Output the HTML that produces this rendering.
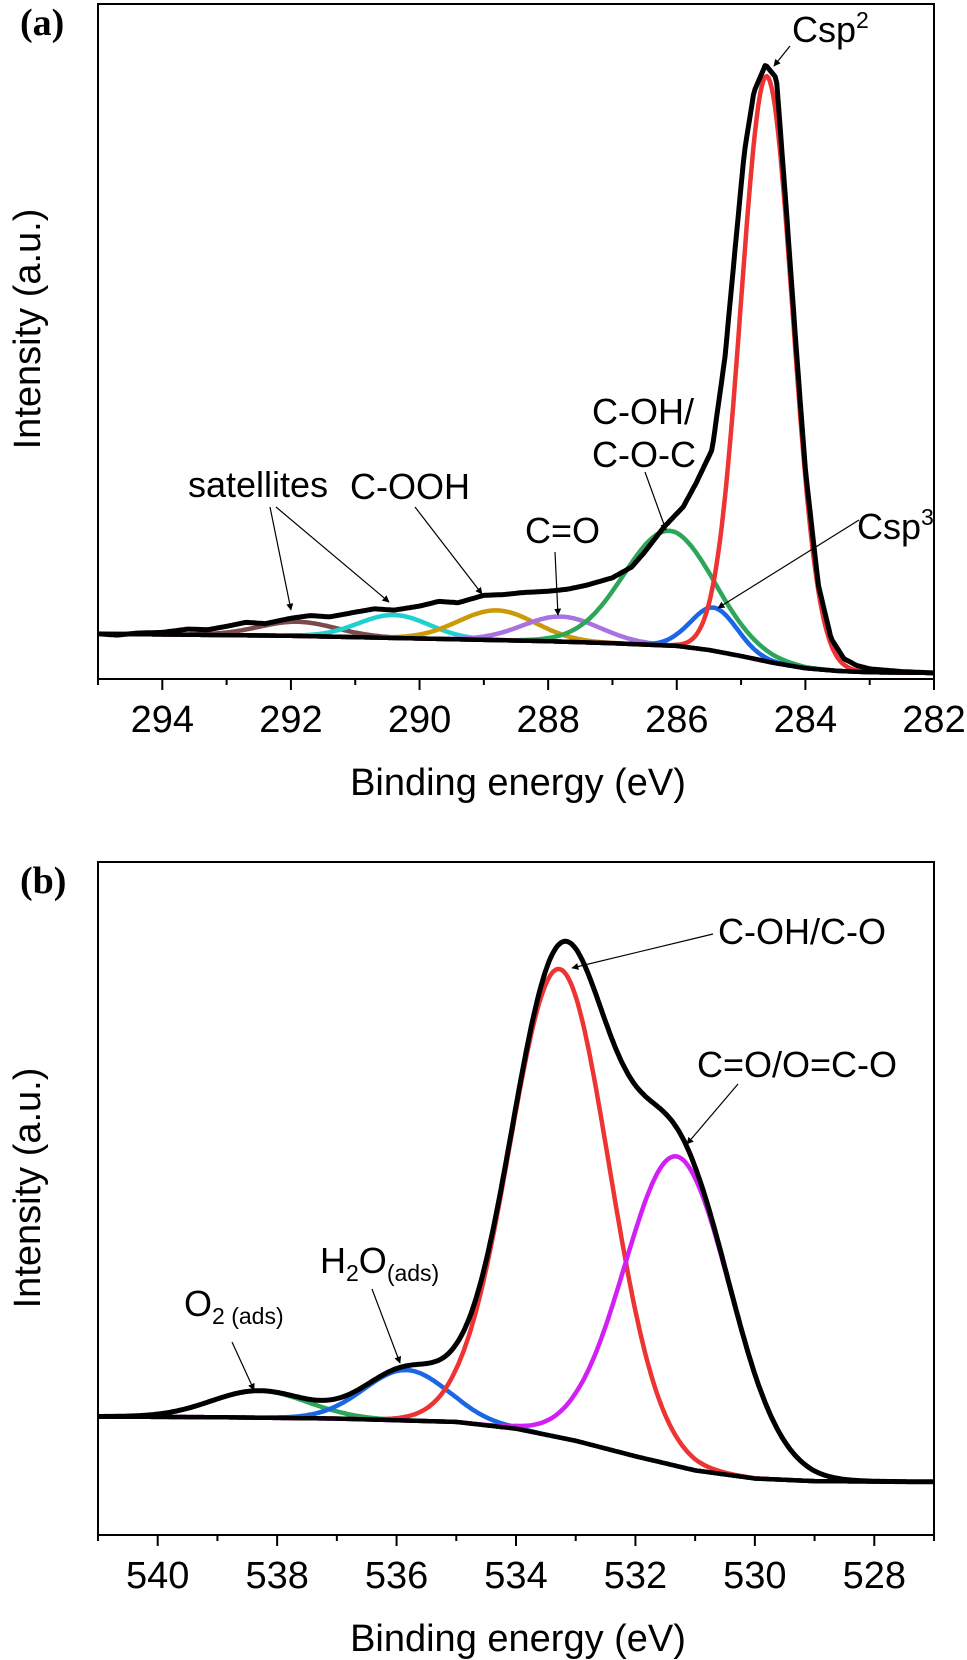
<!DOCTYPE html>
<html><head><meta charset="utf-8"><style>
html,body{margin:0;padding:0;background:#fff;}
svg{display:block;}
text{font-family:"Liberation Sans",Arial,sans-serif;fill:#000;}
</style></head><body>
<svg id="fig" width="967" height="1660" viewBox="0 0 967 1660" xmlns="http://www.w3.org/2000/svg">
<defs>
<marker id="ah" viewBox="0 0 10 10" refX="9" refY="5" markerWidth="7" markerHeight="9" orient="auto" markerUnits="userSpaceOnUse"><path d="M0,0 L10,5 L0,10 z" fill="#000"/></marker>
</defs>
<g id="pa"></g>
<g id="pb"></g>
</svg>
<script>
// ---------- Panel (a) data: C 1s ----------
const aTicks = [294, 292, 290, 288, 286, 284, 282];
const aBgX = [295, 292, 290, 288, 287, 286, 285.5, 285, 284.5, 284, 283.5, 283, 282];
const aBgY = [6.7, 6.4, 6.0, 5.6, 5.3, 4.9, 4.3, 3.4, 2.4, 1.6, 1.2, 1.0, 0.9];
const aPeakNames = ['brown-satellite', 'cyan-satellite', 'gold-cooh', 'purple-c=o', 'green-coh', 'blue-csp3', 'red-csp2'];
const aPeakCenters = [291.9, 290.4, 288.8, 287.8, 286.12, 285.42, 284.6];
const aPeakHeights = [2.1, 3.4, 4.4, 3.7, 17, 6.4, 86.7];
const aPeakSigmas = [0.6, 0.55, 0.6, 0.6, 0.7, 0.36, 0.4];
const aPeakColors = ['#7b4b4b', '#20d0d0', '#cc9a06', '#a873e0', '#2ea65a', '#1a66e6', '#ee3333'];
const aDataX = [295, 294.7, 294.4, 294, 293.6, 293.3, 293, 292.7, 292.4, 292, 291.7, 291.4, 291, 290.7, 290.4, 290, 289.7, 289.4, 289, 288.7, 288.4, 288, 287.7, 287.4, 287, 286.7, 286.5, 286.2, 285.9, 285.7, 285.45, 285.25, 285.1, 284.95, 284.8, 284.62, 284.45, 284.3, 284.15, 284.0, 283.8, 283.6, 283.4, 283.2, 283, 282.5, 282];
const aDataY = [6.7, 6.5, 6.8, 6.9, 7.4, 7.3, 7.8, 8.4, 8.2, 9.0, 9.4, 9.2, 9.9, 10.4, 10.2, 10.8, 11.5, 11.3, 12.4, 12.5, 12.8, 13.0, 13.3, 13.9, 15.0, 16.6, 18.8, 22.5, 25.5, 29, 34, 47.7, 63, 78, 87, 91, 89, 70, 50, 31, 14, 6, 3, 2, 1.5, 1.1, 0.9];

// ---------- Panel (b) data: O 1s ----------
const bTicks = [540, 538, 536, 534, 532, 530, 528];
const bBgX = [541, 539, 537, 535, 534, 533, 532, 531, 530, 529, 527];
const bBgY = [17.6, 17.5, 17.3, 16.8, 15.8, 14.0, 11.7, 9.6, 8.4, 8.0, 7.9];
const bPeakNames = ['green-o2-ads', 'blue-h2o-ads', 'red-coh-co', 'magenta-c=o'];
const bPeakCenters = [538.3, 535.84, 533.27, 531.3];
const bPeakHeights = [4, 7.5, 69.6, 46];
const bPeakSigmas = [0.8, 0.7, 0.83, 0.88];
const bPeakColors = ['#2ea65a', '#1a66e6', '#ee3333', '#d21ff5'];

const NS = 'http://www.w3.org/2000/svg';
function mk(parent, tag, attrs) {
  const e = document.createElementNS(NS, tag);
  for (const k in attrs) e.setAttribute(k, attrs[k]);
  parent.appendChild(e);
  return e;
}
function interp(xs, ys, x) {
  if (x >= xs[0]) return ys[0];
  for (let i = 0; i < xs.length - 1; i++) {
    if (x <= xs[i] && x >= xs[i + 1]) {
      const t = (xs[i] - x) / (xs[i] - xs[i + 1]);
      return ys[i] + t * (ys[i + 1] - ys[i]);
    }
  }
  return ys[ys.length - 1];
}
function gauss(x, c, h, s) { return h * Math.exp(-((x - c) * (x - c)) / (2 * s * s)); }

function panel(g, cfg) {
  const xS = v => cfg.L + (cfg.x0 - v) / (cfg.x0 - cfg.x1) * (cfg.R - cfg.L);
  const yS = v => cfg.B - v / 100 * (cfg.B - cfg.T);
  const fr = mk(g, 'rect', {x: cfg.L, y: cfg.T, width: cfg.R - cfg.L, height: cfg.B - cfg.T, fill: 'none', stroke: '#000', 'stroke-width': 2});
  
  
  for (let v = Math.floor(cfg.x0); v >= Math.ceil(cfg.x1); v--) {
    const major = cfg.ticks.indexOf(v) >= 0;
    const t = mk(g, 'line', {x1: xS(v), x2: xS(v), y1: cfg.B, y2: cfg.B + (major ? 11 : 6), stroke: '#000', 'stroke-width': 2});
    
    
  }
  cfg.ticks.forEach(v => {
    const tl = mk(g, 'text', {x: xS(v), y: cfg.B + 53, 'font-size': 38, 'text-anchor': 'middle'});
    tl.textContent = v;
    
    
  });
  const xt = mk(g, 'text', {x: 518, y: cfg.B + 116, 'font-size': 38, 'text-anchor': 'middle'});
  xt.textContent = 'Binding energy (eV)';
  
  
  const yt = mk(g, 'text', {x: 0, y: 0, 'font-size': 38, 'text-anchor': 'middle', transform: `translate(40,${cfg.yTitle}) rotate(-90)`});
  yt.textContent = 'Intensity (a.u.)';
  
  
  const pl = mk(g, 'text', {x: 20, y: cfg.T + 31, 'font-size': 38, 'font-weight': 'bold', style: 'font-family:"Liberation Serif",serif'});
  pl.textContent = cfg.label;
  
  

  const clip = 'clip' + cfg.label.replace(/\W/g, '');
  const cp = mk(g, 'clipPath', {id: clip});
  mk(cp, 'rect', {x: cfg.L, y: cfg.T, width: cfg.R - cfg.L, height: cfg.B - cfg.T});
  const cg = mk(g, 'g', {'clip-path': `url(#${clip})`});

  const N = 500;
  const xsamp = [];
  for (let i = 0; i <= N; i++) xsamp.push(cfg.x0 - i * (cfg.x0 - cfg.x1) / N);
  const bg = x => interp(cfg.bgX, cfg.bgY, x);
  const pathOf = f => xsamp.map((x, i) => (i ? 'L' : 'M') + xS(x).toFixed(1) + ',' + yS(f(x)).toFixed(1)).join(' ');

  cfg.centers.forEach((c, k) => {
    const p = mk(cg, 'path', {d: pathOf(x => bg(x) + gauss(x, c, cfg.heights[k], cfg.sigmas[k])), fill: 'none', stroke: cfg.colors[k], 'stroke-width': 4.5, 'stroke-linejoin': 'round'});
    
    
  });
  let envF;
  if (cfg.dataX) envF = x => interp(cfg.dataX, cfg.dataY, x);
  else envF = x => bg(x) + cfg.centers.reduce((s, c, k) => s + gauss(x, c, cfg.heights[k], cfg.sigmas[k]), 0);
  const env = mk(cg, 'path', {d: pathOf(envF), fill: 'none', stroke: '#000', 'stroke-width': 5, 'stroke-linejoin': 'round'});
  
  
  const bgl = mk(cg, 'path', {d: pathOf(bg), fill: 'none', stroke: '#000', 'stroke-width': 4.5});
  
  
}

const pa = document.getElementById('pa');
panel(pa, {L: 98, R: 934, T: 4, B: 679, x0: 295, x1: 282, ticks: aTicks, yTitle: 329, label: '(a)',
  bgX: aBgX, bgY: aBgY, centers: aPeakCenters, heights: aPeakHeights, sigmas: aPeakSigmas, colors: aPeakColors, names: aPeakNames, dataX: aDataX, dataY: aDataY});
const pb = document.getElementById('pb');
panel(pb, {L: 98, R: 934, T: 862, B: 1535, x0: 541, x1: 527, ticks: bTicks, yTitle: 1188, label: '(b)',
  bgX: bBgX, bgY: bBgY, centers: bPeakCenters, heights: bPeakHeights, sigmas: bPeakSigmas, colors: bPeakColors, names: bPeakNames});

function label(g, name, x, y, html) {
  const t = mk(g, 'text', {x: x, y: y, 'font-size': 36});
  t.innerHTML = html;
  
  
}
function arrow(g, name, x1, y1, x2, y2) {
  const l = mk(g, 'line', {x1, y1, x2, y2, stroke: '#000', 'stroke-width': 1.2, 'marker-end': 'url(#ah)'});
  
  
}
label(pa, 'label-satellites', 188, 497, 'satellites');
arrow(pa, 'arrow-satellites-1', 270, 507, 291, 610);
arrow(pa, 'arrow-satellites-2', 276, 507, 389, 602);
label(pa, 'label-cooh', 350, 499, 'C-OOH');
arrow(pa, 'arrow-cooh', 415, 507, 482, 594);
label(pa, 'label-c=o', 525, 543, 'C=O');
arrow(pa, 'arrow-c=o', 555, 552, 558, 615);
label(pa, 'label-coh-line1', 592, 424, 'C-OH/');
label(pa, 'label-coh-line2', 592, 467, 'C-O-C');
arrow(pa, 'arrow-coh', 645, 472, 666, 530);
label(pa, 'label-csp3', 857, 539, 'Csp<tspan dy="-14" font-size="23">3</tspan>');
arrow(pa, 'arrow-csp3', 859, 520, 718, 608);
label(pa, 'label-csp2', 792, 42, 'Csp<tspan dy="-14" font-size="23">2</tspan>');
arrow(pa, 'arrow-csp2', 790, 46, 774, 66);

label(pb, 'label-coh-co', 718, 944, 'C-OH/C-O');
arrow(pb, 'arrow-coh-co', 713, 934, 572, 968);
label(pb, 'label-c=o-o=c-o', 697, 1077, 'C=O/O=C-O');
arrow(pb, 'arrow-c=o-o=c-o', 738, 1084, 687, 1144);
label(pb, 'label-h2o-ads', 320, 1273, 'H<tspan dy="8" font-size="23">2</tspan><tspan dy="-8">O</tspan><tspan dy="8" font-size="23">(ads)</tspan>');
arrow(pb, 'arrow-h2o-ads', 372, 1289, 400, 1363);
label(pb, 'label-o2-ads', 184, 1316, 'O<tspan dy="8" font-size="23">2 (ads)</tspan>');
arrow(pb, 'arrow-o2-ads', 232, 1342, 254, 1390);
</script>
</body></html>
